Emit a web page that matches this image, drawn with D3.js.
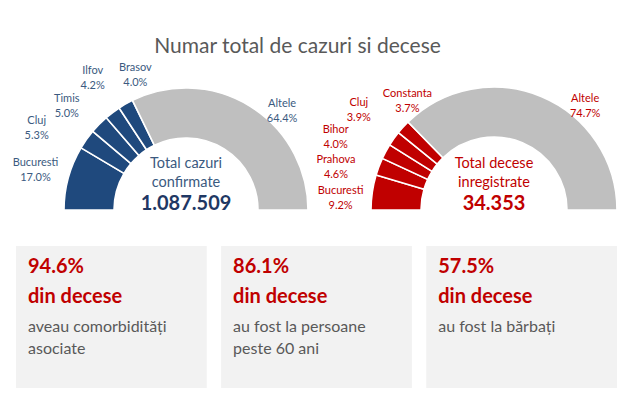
<!DOCTYPE html>
<html><head><meta charset="utf-8">
<script src="https://cdn.jsdelivr.net/npm/d3@7"></script>
<style>
html,body{margin:0;padding:0;background:#fff;}
svg{display:block;font-family:Lato,"Open Sans",sans-serif;}
</style></head>
<body><svg id="c" width="635" height="393"></svg>
<script>
// ---- data ----
const title = "Numar total de cazuri si decese";
const caseRegions = ["Bucuresti","Cluj","Timis","Ilfov","Brasov","Altele"];
const caseShares  = [17.0, 5.3, 5.0, 4.2, 4.0, 64.4];
const caseTotalLines = ["Total cazuri","confirmate"];
const caseTotal = "1.087.509";
const deathRegions = ["Bucuresti","Prahova","Bihor","Cluj","Constanta","Altele"];
const deathShares  = [9.2, 4.6, 4.0, 3.9, 3.7, 74.7];
const deathTotalLines = ["Total decese","inregistrate"];
const deathTotal = "34.353";
const factValues = ["94.6%","86.1%","57.5%"];
const factHeads  = ["din decese","din decese","din decese"];
const factTexts  = [["aveau comorbidități","asociate"],["au fost la persoane","peste 60 ani"],["au fost la bărbați"]];

// ---- layout (not data) ----
const caseNudge  = [[-1,0],[-23,7],[-9,4],[0,-9],[26,-1],[14,31]];
const deathNudge = [[0,9],[-13,11],[-22,0],[-9,-11],[28,-6],[31,38]];

const svg = d3.select("#c");
svg.append("text").attr("x",297.5).attr("y",53).attr("text-anchor","middle")
  .attr("font-size",21).attr("fill","#595959").text(title);

function gauge(cx, cy, R, r, names, vals, col, labelCol, totalLines, total, totalCol, nudge){
  const pie = d3.pie().sort(null).startAngle(-Math.PI/2).endAngle(Math.PI/2);
  const arcs = pie(vals);
  const arc = d3.arc().innerRadius(r).outerRadius(R);
  const labelArc = d3.arc().innerRadius(155).outerRadius(155);
  const g = svg.append("g").attr("transform",`translate(${cx},${cy})`);
  g.selectAll("path").data(arcs).join("path")
    .attr("d",arc)
    .attr("fill",(d,i)=> i===vals.length-1 ? "#bfbfbf" : col)
    .attr("stroke","#fff").attr("stroke-width",1.6);
  const lab = g.selectAll("g.lab").data(arcs).join("g").attr("class","lab")
    .attr("transform",(d,i)=>{const c=labelArc.centroid(d);return `translate(${c[0]+nudge[i][0]},${c[1]+nudge[i][1]})`;});
  lab.append("text").attr("y",-3).attr("text-anchor","middle").attr("font-size",11)
    .attr("fill",labelCol).text((d,i)=>names[i]);
  lab.append("text").attr("y",12).attr("text-anchor","middle").attr("font-size",11)
    .attr("fill",labelCol).text(d=>d3.format(".1f")(d.data)+"%");
  g.append("text").attr("y",-42).attr("text-anchor","middle").attr("font-size",14.5)
    .attr("fill",labelCol).text(totalLines[0]);
  g.append("text").attr("y",-23).attr("text-anchor","middle").attr("font-size",14.5)
    .attr("fill",labelCol).text(totalLines[1]);
  g.append("text").attr("y",0).attr("text-anchor","middle").attr("font-size",20)
    .attr("font-weight","bold").attr("fill",totalCol).text(total);
}
gauge(186,210,122,72,caseRegions,caseShares,"#1f497d","#3b5a80",caseTotalLines,caseTotal,"#1f3864",caseNudge);
gauge(494,210,123,73,deathRegions,deathShares,"#c00000","#c00000",deathTotalLines,deathTotal,"#c00000",deathNudge);

// fact boxes
const bx = d3.scaleBand().domain(d3.range(factValues.length)).range([16,617]).paddingInner(0.07);
const boxes = svg.selectAll("g.box").data(factValues).join("g").attr("class","box")
  .attr("transform",(d,i)=>`translate(${bx(i)},246)`);
boxes.append("rect").attr("width",bx.bandwidth()).attr("height",142).attr("fill","#f2f2f2");
boxes.append("text").attr("x",12).attr("y",27).attr("font-size",20).attr("font-weight","bold")
  .attr("fill","#c00000").text(d=>d);
boxes.append("text").attr("x",12).attr("y",57).attr("font-size",20).attr("font-weight","bold")
  .attr("fill","#c00000").text((d,i)=>factHeads[i]);
boxes.each(function(d,i){
  d3.select(this).selectAll("text.t").data(factTexts[i]).join("text").attr("class","t")
    .attr("x",12).attr("y",(t,j)=>86+j*22).attr("font-size",16).attr("fill","#595959").text(t=>t);
});
</script></body></html>
